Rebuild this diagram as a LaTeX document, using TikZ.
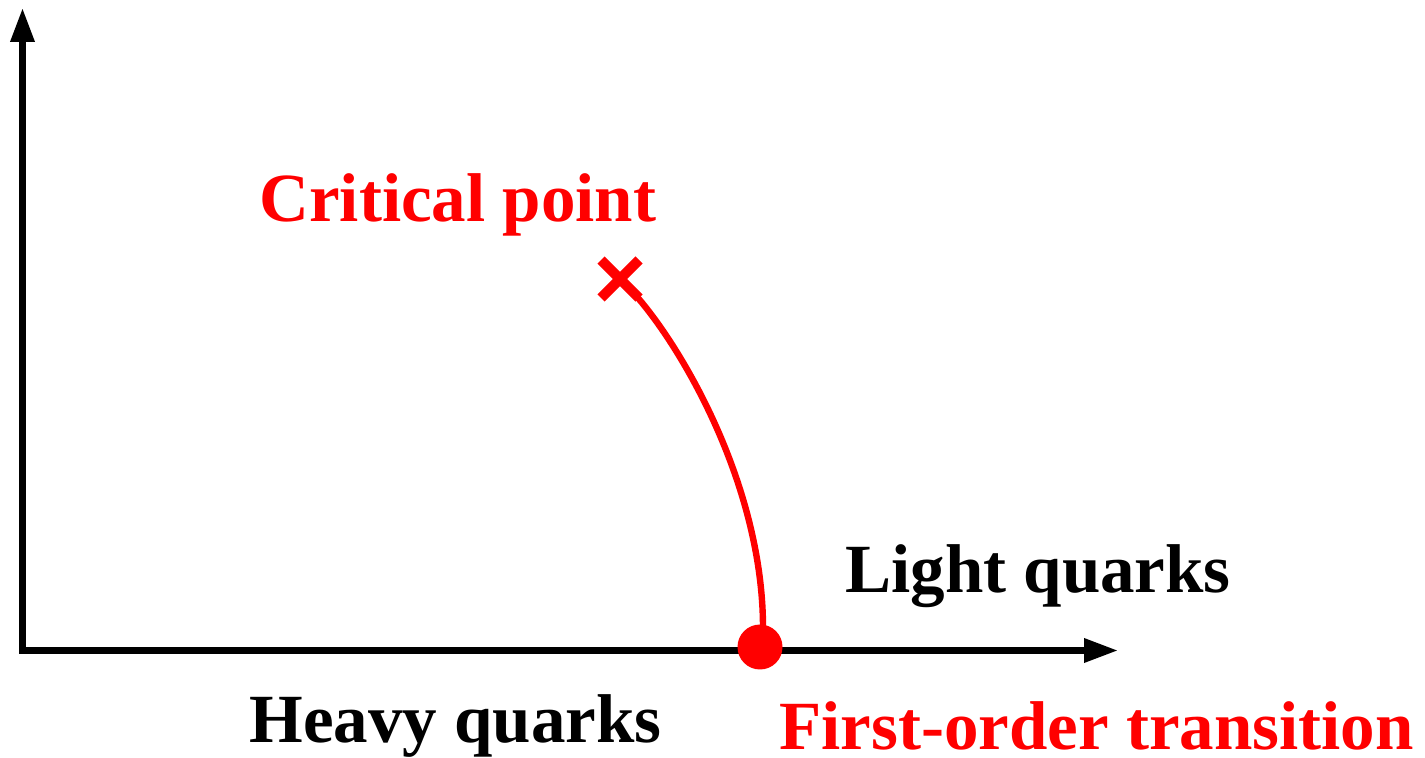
\documentclass[tikz,border=0pt]{standalone}
\usepackage{fontspec}
\setmainfont{Liberation Serif}
\usetikzlibrary{arrows.meta}
\definecolor{cpred}{RGB}{255,0,0}
\tikzset{
  axis/.style={line width=3.3pt, -{Triangle[length=17pt,width=11.5pt]}},
  lbl/.style={font=\fontsize{34.5pt}{40pt}\selectfont\bfseries, anchor=base west, inner sep=0pt},
  redlbl/.style={lbl, text=cpred},
  crossarm/.style={cpred, line width=5pt},
  curve/.style={cpred, line width=3.2pt},
  dot/.style={circle, fill=cpred, minimum size=22.5pt, inner sep=0pt}
}
\begin{document}
\begin{tikzpicture}[x=0.5pt, y=-0.5pt]
\useasboundingbox (0,0) rectangle (1425,758);
\coordinate (xstart) at (19,650.5);
\coordinate (xend) at (1118,650.5);
\coordinate (ystart) at (22.5,654);
\coordinate (yend) at (22.5,8);
\draw[axis] (xstart) -- (xend);
\draw[axis] (ystart) -- (yend);
% critical point cross
\coordinate (cp) at (620,279);
\coordinate (cpa) at (601,260);
\coordinate (cpb) at (639,298);
\coordinate (cpc) at (639,260);
\coordinate (cpd) at (601,298);
\draw[crossarm] (cpa) -- (cpb);
\draw[crossarm] (cpc) -- (cpd);
% first-order point
\node[dot] (fo) at (760,647) {};
\coordinate (cstart) at (628,287);
\coordinate (cend) at (763,628);
\draw[curve] (cstart) .. controls (675,335) and (763,480) .. (cend);
% labels
\node[redlbl] (crit) at (259,222) {Critical point};
\node[lbl] (light) at (845,593) {Light quarks};
\node[lbl] (heavy) at (249,743) {Heavy quarks};
\node[redlbl] (first) at (779,749) {First-order transition};
\end{tikzpicture}
\end{document}
